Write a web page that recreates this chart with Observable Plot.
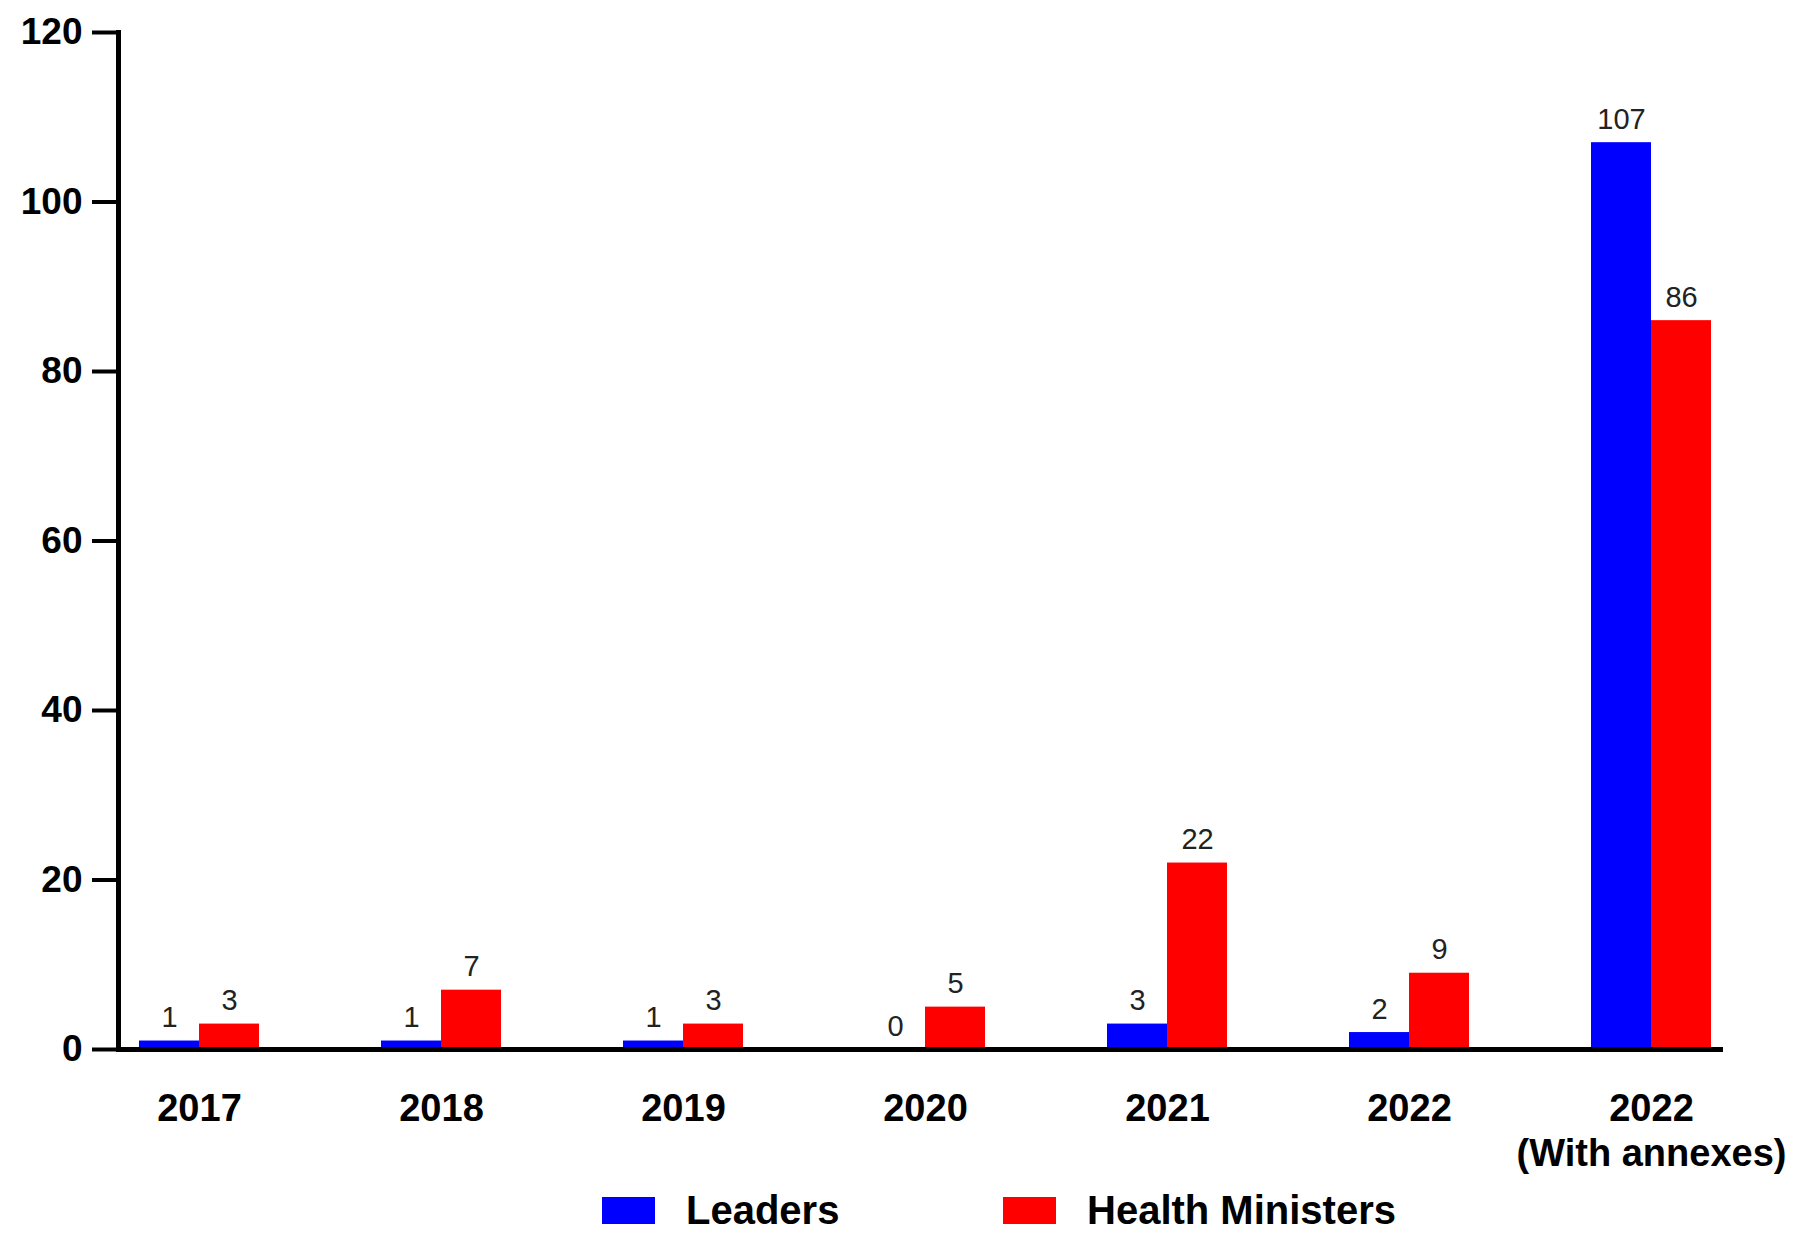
<!DOCTYPE html>
<html>
<head>
<meta charset="utf-8">
<script src="https://cdn.jsdelivr.net/npm/d3@7"></script>
<script src="https://cdn.jsdelivr.net/npm/@observablehq/plot@0.6"></script>
<style>
  html, body { margin: 0; padding: 0; background: #fff; }
  #chart svg { display: block; }
  .legend { position: relative; height: 50px; font-family: "Liberation Sans", Arial, sans-serif; }
  .item { position: absolute; top: 0; height: 50px; display: flex; align-items: center; }
  .sw { width: 53px; height: 27px; margin-right: 31px; }
  .lab { font-size: 40px; font-weight: bold; color: #000; }
</style>
</head>
<body>
<div id="chart"></div>
<div class="legend" id="legend"></div>
<script>
const categories = ["2017", "2018", "2019", "2020", "2021", "2022", "2022\n(With annexes)"];
const leaders = [1, 1, 1, 0, 3, 2, 107];
const healthMinisters = [3, 7, 3, 5, 22, 9, 86];
const seriesNames = ["Leaders", "Health Ministers"];
const seriesColors = ["#0000ff", "#ff0000"];
const yTicks = [0, 20, 40, 60, 80, 100, 120];

const leaderRows = categories.map((c, i) => ({category: c, value: leaders[i]}));
const healthRows = categories.map((c, i) => ({category: c, value: healthMinisters[i]}));

const W = 1808, H = 1185;
const half = 60;

const plot = Plot.plot({
  width: W,
  height: H,
  marginLeft: 118,
  marginRight: W - 1723,
  marginTop: 32,
  marginBottom: H - 1049,
  style: {fontFamily: "'Liberation Sans', Arial, sans-serif", color: "#000", background: "#fff"},
  x: {domain: categories, type: "band", paddingInner: 0.5048, paddingOuter: 0.064, align: 0.64},
  y: {domain: [0, 120]},
  marks: [
    Plot.barY(leaderRows, {x: "category", y: "value", fill: seriesColors[0], insetRight: half}),
    Plot.barY(healthRows, {x: "category", y: "value", fill: seriesColors[1], insetLeft: half}),
    Plot.text(leaderRows, {x: "category", y: "value", text: d => String(d.value), dx: -half / 2, dy: -14, lineAnchor: "bottom", fontSize: 29, fill: "#222"}),
    Plot.text(healthRows, {x: "category", y: "value", text: d => String(d.value), dx: half / 2, dy: -14, lineAnchor: "bottom", fontSize: 29, fill: "#222"}),
    Plot.ruleY([0], {strokeWidth: 5, stroke: "#000"}),
    Plot.frame({anchor: "left", strokeWidth: 5, stroke: "#000"}),
    Plot.axisY({ticks: yTicks, tickSize: 26, tickPadding: 10, fontSize: 37, fontWeight: "bold", strokeWidth: 4, label: null, tickFormat: d => String(d)}),
    Plot.axisX({tickSize: 0, tickPadding: 39, fontSize: 38, fontWeight: "bold", lineHeight: 1.2, label: null, tickFormat: d => d})
  ]
});
document.getElementById("chart").appendChild(plot);

const legend = document.getElementById("legend");
const lefts = [602, 1003];
seriesNames.forEach((name, i) => {
  const item = document.createElement("div");
  item.className = "item";
  item.style.left = lefts[i] + "px";
  const sw = document.createElement("div");
  sw.className = "sw";
  sw.style.background = seriesColors[i];
  const lab = document.createElement("span");
  lab.className = "lab";
  lab.textContent = name;
  item.appendChild(sw);
  item.appendChild(lab);
  legend.appendChild(item);
});
</script>
</body>
</html>
